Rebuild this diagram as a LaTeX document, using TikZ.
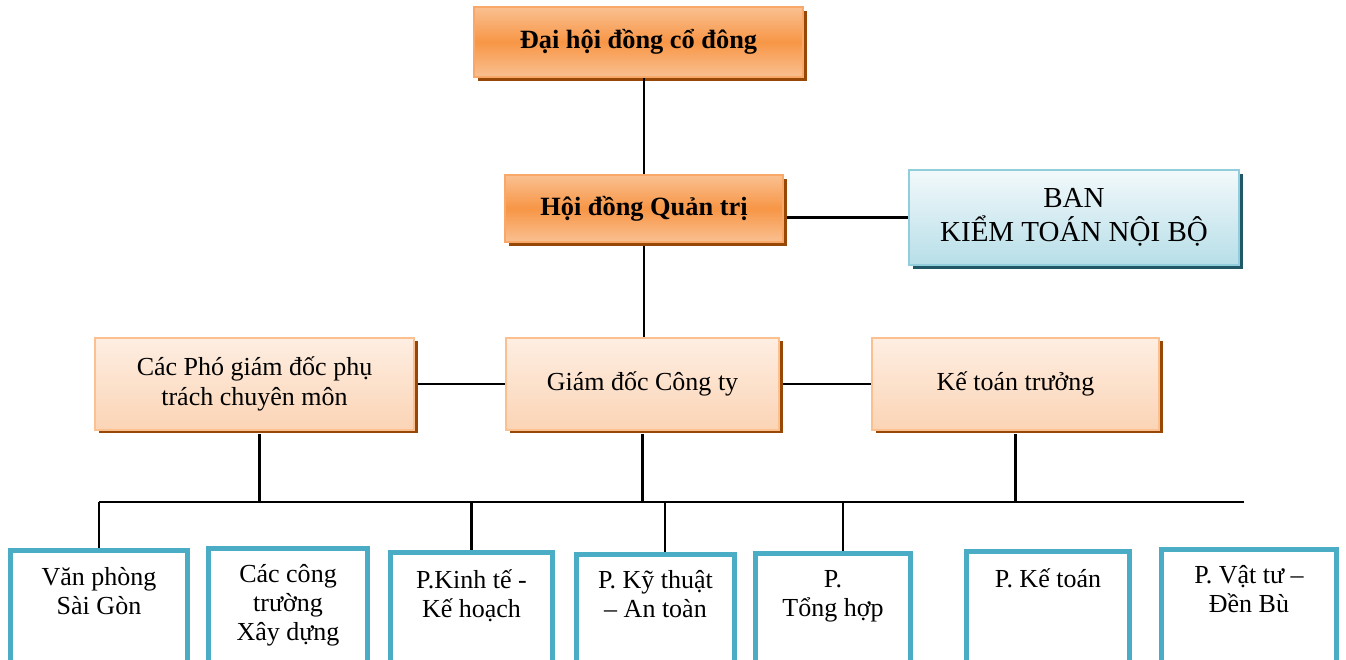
\documentclass[tikz,border=0pt]{standalone}
\usepackage{fontspec}
\setmainfont{Liberation Serif}
\usetikzlibrary{shadows,positioning}
\definecolor{orangemid}{RGB}{247,150,70}
\definecolor{orangelight}{RGB}{250,192,145}
\definecolor{orangeline}{RGB}{248,168,104}
\definecolor{peachtop}{RGB}{254,238,226}
\definecolor{peachbot}{RGB}{251,212,181}
\definecolor{peachline}{RGB}{250,192,143}
\definecolor{shadowbrown}{RGB}{152,72,6}
\definecolor{icetop}{RGB}{242,249,251}
\definecolor{icebot}{RGB}{183,222,232}
\definecolor{iceline}{RGB}{146,205,220}
\definecolor{shadowteal}{RGB}{32,88,103}
\definecolor{deptblue}{RGB}{75,172,198}

\begin{document}
\begin{tikzpicture}[
  txt/.style={font=\fontsize{14.8}{17}\selectfont,align=center},
  topbox/.style={rectangle,draw=orangeline,line width=1.4pt,top color=orangelight,bottom color=orangelight,middle color=orangemid,
    drop shadow={shadow xshift=0.08cm,shadow yshift=-0.08cm,fill=shadowbrown,opacity=1},font=\fontsize{15}{17}\selectfont\bfseries},
  midbox/.style={rectangle,draw=peachline,line width=1.2pt,top color=peachtop,bottom color=peachbot,
    drop shadow={shadow xshift=0.07cm,shadow yshift=-0.07cm,fill=shadowbrown,opacity=1},txt,minimum height=1.84cm},
  auditbox/.style={rectangle,draw=iceline,line width=1.6pt,top color=icetop,bottom color=icebot,
    drop shadow={shadow xshift=0.08cm,shadow yshift=-0.08cm,fill=shadowteal,opacity=1},
    font=\fontsize{16.5}{19}\selectfont,align=center},
  dept/.style={rectangle,draw=deptblue,line width=2.8pt,fill=white,anchor=north,minimum height=2.8cm},
  depttext/.style={txt,inner sep=0pt,font=\fontsize{14.8}{16.5}\selectfont},
  link/.style={line width=1.2pt}
]
  \useasboundingbox (0,0) rectangle (26.92,13.2);
  \clip (0,0) rectangle (26.92,13.2);

  % upper levels
  \node[topbox,minimum width=6.58cm,minimum height=1.40cm] (dhcd) at (12.77,12.36) {Đại hội đồng cổ đông};
  \node[topbox,minimum width=5.56cm,minimum height=1.34cm] (hdqt) at (12.88,9.03) {Hội đồng Quản trị};
  \node[auditbox,minimum width=6.60cm,minimum height=1.90cm] (ktnb) at (21.48,8.85) {BAN\\KIỂM TOÁN NỘI BỘ};

  % management row
  \node[midbox,minimum width=6.38cm] (pgd) at (5.09,5.52) {Các Phó giám đốc phụ\\trách chuyên môn};
  \node[midbox,minimum width=5.46cm] (gd) at (12.85,5.52) {Giám đốc Công ty};
  \node[midbox,minimum width=5.74cm] (ktt) at (20.31,5.52) {Kế toán trưởng};

  % departments
  \node[dept,minimum width=3.54cm] (vpsg) at (1.98,2.23) {};
  \node[dept,minimum width=3.18cm] (ctxd) at (5.76,2.27) {};
  \node[dept,minimum width=3.24cm] (pkth) at (9.43,2.19) {};
  \node[dept,minimum width=3.16cm] (pkyt) at (13.11,2.15) {};
  \node[dept,minimum width=3.10cm] (pth) at (16.66,2.17) {};
  \node[dept,minimum width=3.26cm] (pkt) at (20.96,2.21) {};
  \node[dept,minimum width=3.50cm] (pvt) at (24.98,2.25) {};

  \node[depttext,below=0.38cm of vpsg.north] (vpsgt) {Văn phòng\\Sài Gòn};
  \node[depttext,below=0.36cm of ctxd.north] (ctxdt) {Các công\\trường\\Xây dựng};
  \node[depttext,below=0.38cm of pkth.north] (pktht) {P.Kinh tế -\\Kế hoạch};
  \node[depttext,below=0.36cm of pkyt.north] (pkytt) {P. Kỹ thuật\\– An toàn};
  \node[depttext,below=0.38cm of pth.north] (ptht) {P.\\Tổng hợp};
  \node[depttext,below=0.38cm of pkt.north] (pktt) {P. Kế toán};
  \node[depttext,below=0.36cm of pvt.north] (pvtt) {P. Vật tư –\\Đền Bù};

  % connectors
  \coordinate (bus) at (0,3.16);
  \coordinate (busend) at (24.88,3.16);
  \draw[link] (hdqt.north) -- (hdqt.north |- dhcd.south);
  \draw[link] ([xshift=0.06cm]hdqt.east |- ktnb.west) -- (ktnb.west);
  \draw[link] ([yshift=-0.06cm]hdqt.south) -- (hdqt.south |- gd.north);
  \draw[link] ([xshift=0.06cm]pgd.east) -- (gd.west);
  \draw[link] ([xshift=0.06cm]gd.east) -- (ktt.west);
  \draw[link] ([xshift=0.1cm,yshift=-0.06cm]pgd.south) -- ([xshift=0.1cm]pgd.south |- bus);
  \draw[link] ([yshift=-0.06cm]gd.south) -- (gd.south |- bus);
  \draw[link] ([yshift=-0.06cm]ktt.south) -- (ktt.south |- bus);
  \draw[link] (vpsg.north |- bus) -- (busend);
  \draw[link] (vpsg.north |- bus) -- (vpsg.north);
  \draw[link] (pkth.north |- bus) -- (pkth.north);
  \draw[link] ([xshift=0.19cm]pkyt.north |- bus) -- ([xshift=0.19cm]pkyt.north);
  \draw[link] ([xshift=0.2cm]pth.north |- bus) -- ([xshift=0.2cm]pth.north);
\end{tikzpicture}
\end{document}
